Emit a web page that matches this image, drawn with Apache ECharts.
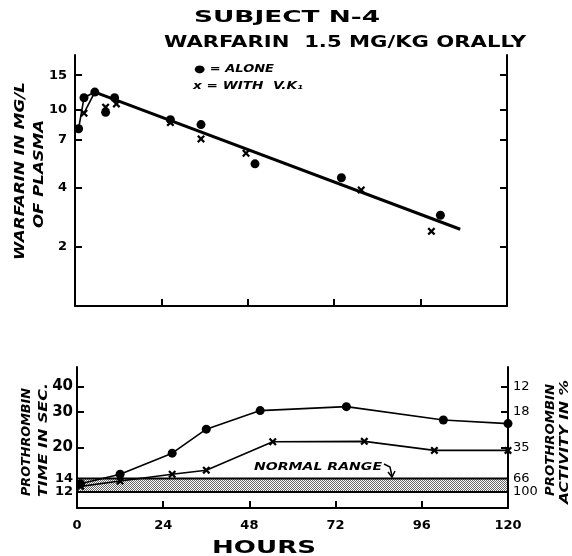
<!DOCTYPE html>
<html>
<head>
<meta charset="utf-8">
<script src="https://cdn.jsdelivr.net/npm/echarts@6/dist/echarts.min.js"></script>
<style>
  html, body { margin: 0; padding: 0; background: #fff; }
  #main { width: 572px; height: 556px; }
</style>
</head>
<body>
<div id="main"></div>
<script>
// hours (x axis, both panels)
const hourTicks = [0, 24, 48, 72, 96, 120];

// upper panel: warfarin in plasma, mg/L (log scale)
const warfarinTicks = [2, 4, 7, 10, 15];
const warfarinAlone = [[1, 8.0], [2.5, 11.5], [5.5, 12.3], [8.5, 9.7], [11, 11.5], [26.5, 8.9], [35, 8.4], [50, 5.3], [74, 4.5], [101.5, 2.9]];
const warfarinVitK = [[2.5, 9.6], [8.5, 10.3], [11.5, 10.7], [26.5, 8.6], [35, 7.1], [47.5, 6.0], [79.5, 3.9], [99, 2.4]];
const warfarinFit = [[5.5, 12.3], [107, 2.46]];

// lower panel: prothrombin time in sec (log scale) and activity in %
const timeTicks = [12, 14, 20, 30, 40];
const activityLabels = ['100', '66', '35', '18', '12'];
const prothAlone = [[1, 13.2], [12, 14.7], [26.5, 18.7], [36, 24.6], [51, 30.4], [75, 31.8], [102, 27.3], [120, 26.2]];
const prothVitK = [[1, 12.8], [12, 13.6], [26.5, 14.7], [36, 15.4], [54.5, 21.3], [80, 21.4], [99.5, 19.3], [120, 19.3]];
const normalRange = [12, 14];

const chart = echarts.init(document.getElementById('main'));

// stipple pattern for the normal range band
const dots = document.createElement('canvas');
dots.width = 2; dots.height = 2;
const dctx = dots.getContext('2d');
dctx.fillStyle = '#fff';
dctx.fillRect(0, 0, 2, 2);
dctx.fillStyle = '#666';
dctx.fillRect(0, 0, 1, 1);
dctx.fillRect(1, 1, 1, 1);

// stretch a text so it covers len pixels, like the hand lettering
const measure = document.createElement('canvas').getContext('2d');
function fitText(text, font, cx, cy, len, rotation) {
  measure.font = font;
  const w = measure.measureText(text).width;
  return {
    type: 'text', x: cx, y: cy, rotation: rotation || 0, scaleX: len / w,
    style: { text: text, font: font, fill: '#000', textAlign: 'center', textVerticalAlign: 'middle' }
  };
}

const crossSymbol = 'path://M2,0 L5,3 L8,0 L10,2 L7,5 L10,8 L8,10 L5,7 L2,10 L0,8 L3,5 L0,2 Z';
const axisLine = { show: true, lineStyle: { color: '#000', width: 2 } };
const tick = (vals) => ({ show: true, inside: true, length: 7, customValues: vals, lineStyle: { color: '#000', width: 2 } });
const bold = '"DejaVu Sans"';

const option = {
  animation: false,
  backgroundColor: '#fff',
  grid: [
    { left: 75, right: 65, top: 55, height: 251 },
    { left: 77, right: 64, top: 367, height: 141 }
  ],
  xAxis: [
    {
      gridIndex: 0, type: 'value', min: 0, max: 120, interval: 24,
      axisLine: axisLine, axisTick: tick(hourTicks), axisLabel: { show: false }, splitLine: { show: false }
    },
    {
      gridIndex: 1, type: 'value', min: 0, max: 120, interval: 24,
      axisLine: axisLine, axisTick: tick(hourTicks), splitLine: { show: false },
      axisLabel: { customValues: hourTicks, color: '#000', fontFamily: bold, fontWeight: 'bold', fontSize: 13, margin: 11 }
    }
  ],
  yAxis: [
    {
      gridIndex: 0, type: 'log', min: 1, max: 19, position: 'left',
      axisLine: axisLine, axisTick: tick(warfarinTicks), splitLine: { show: false }, minorTick: { show: false },
      axisLabel: { customValues: warfarinTicks, color: '#000', fontFamily: bold, fontWeight: 'bold', fontSize: 13, margin: 8 }
    },
    {
      gridIndex: 0, type: 'log', min: 1, max: 19, position: 'right',
      axisLine: axisLine, axisTick: tick(warfarinTicks), splitLine: { show: false }, axisLabel: { show: false }
    },
    {
      gridIndex: 1, type: 'log', min: 10, max: 50, position: 'left',
      axisLine: axisLine, axisTick: tick(timeTicks), splitLine: { show: false },
      axisLabel: {
        customValues: timeTicks, color: '#000', fontFamily: bold, fontWeight: 'bold', fontSize: 13, margin: 4,
        hideOverlap: false, showMinLabel: true, showMaxLabel: true, lineHeight: 12,
        formatter: (v) => (v >= 20 ? '{big|' : '{small|') + Math.round(v) + '}',
        rich: {
          big: { fontSize: 15, fontWeight: 'bold', fontFamily: bold, lineHeight: 12 },
          small: { fontSize: 13, fontWeight: 'bold', fontFamily: bold, lineHeight: 12 }
        }
      }
    },
    {
      gridIndex: 1, type: 'log', min: 10, max: 50, position: 'right',
      axisLine: axisLine, axisTick: tick(timeTicks), splitLine: { show: false },
      axisLabel: {
        customValues: timeTicks, color: '#000', fontFamily: bold, fontSize: 13, margin: 5,
        hideOverlap: false, showMinLabel: true, lineHeight: 12,
        formatter: (v) => activityLabels[timeTicks.indexOf(Math.round(v))]
      }
    }
  ],
  series: [
    // upper panel
    {
      type: 'line', xAxisIndex: 0, yAxisIndex: 0, data: warfarinFit, showSymbol: false,
      lineStyle: { color: '#000', width: 3 }, z: 2
    },
    {
      type: 'line', xAxisIndex: 0, yAxisIndex: 0, data: warfarinAlone.slice(0, 3), showSymbol: false,
      lineStyle: { color: '#000', width: 1.6 }, z: 2
    },
    {
      type: 'line', xAxisIndex: 0, yAxisIndex: 0, data: [warfarinVitK[0], warfarinAlone[2]], showSymbol: false,
      lineStyle: { color: '#000', width: 1.6 }, z: 2
    },
    {
      type: 'scatter', xAxisIndex: 0, yAxisIndex: 0, data: warfarinAlone,
      symbol: 'circle', symbolSize: 9, itemStyle: { color: '#000', opacity: 1 }, z: 3
    },
    {
      type: 'scatter', xAxisIndex: 0, yAxisIndex: 0, data: warfarinVitK,
      symbol: crossSymbol, symbolSize: 8, itemStyle: { color: '#000', opacity: 1 }, z: 3
    },
    // lower panel
    {
      type: 'line', xAxisIndex: 1, yAxisIndex: 2, data: prothAlone,
      symbol: 'circle', symbolSize: 9, showSymbol: true,
      itemStyle: { color: '#000' }, lineStyle: { color: '#000', width: 1.6 }, z: 3,
      markArea: {
        silent: true,
        itemStyle: { color: { image: dots, repeat: 'repeat' }, borderColor: '#000', borderWidth: 2 },
        data: [[{ yAxis: normalRange[0] }, { yAxis: normalRange[1] }]]
      }
    },
    {
      type: 'line', xAxisIndex: 1, yAxisIndex: 2, data: prothVitK,
      symbol: crossSymbol, symbolSize: 8, showSymbol: true,
      itemStyle: { color: '#000' }, lineStyle: { color: '#000', width: 1.6 }, z: 3
    }
  ],
  graphic: [
    fitText('SUBJECT N-4', 'bold 15px ' + bold, 287, 18, 186),
    fitText('WARFARIN  1.5 MG/KG ORALLY', 'bold 15px ' + bold, 345, 43, 362),
    fitText('● = ALONE', 'italic bold 10px ' + bold, 234, 69, 80),
    fitText('x = WITH  V.K₁', 'italic bold 10px ' + bold, 248, 86, 110),
    fitText('WARFARIN IN MG/L', 'italic bold 14px ' + bold, 20, 171, 178, Math.PI / 2),
    fitText('OF PLASMA', 'italic bold 14px ' + bold, 39, 174, 108, Math.PI / 2),
    fitText('PROTHROMBIN', 'italic bold 13px ' + bold, 27, 442, 108, Math.PI / 2),
    fitText('TIME IN SEC.', 'italic bold 13px ' + bold, 44, 440, 114, Math.PI / 2),
    fitText('PROTHROMBIN', 'italic bold 13px ' + bold, 551, 440, 112, Math.PI / 2),
    fitText('ACTIVITY IN %', 'italic bold 13px ' + bold, 565, 442, 124, Math.PI / 2),
    fitText('NORMAL RANGE', 'italic bold 10px ' + bold, 318, 467, 128),
    {
      type: 'polyline', shape: { points: [[384, 464], [390, 467], [392, 476]] },
      style: { stroke: '#000', lineWidth: 1.5, fill: null }
    },
    {
      type: 'polyline', shape: { points: [[388, 472], [392, 477], [395, 471]] },
      style: { stroke: '#000', lineWidth: 1.5, fill: null }
    },
    fitText('HOURS', 'bold 18px ' + bold, 264, 548, 104)
  ]
};

chart.setOption(option);
window.addEventListener('resize', function () {
  chart.resize();
});
</script>
</body>
</html>
